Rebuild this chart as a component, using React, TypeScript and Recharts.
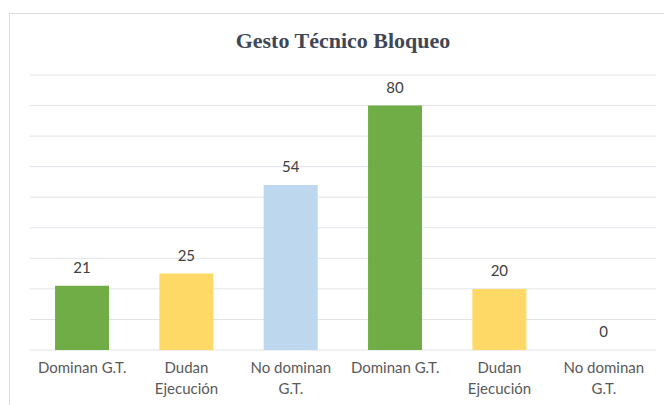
import React from 'react';
import { BarChart, Bar, XAxis, YAxis, CartesianGrid, LabelList, Cell } from 'recharts';

const categories = ['Dominan G.T.', 'Dudan Ejecución', 'No dominan G.T.', 'Dominan G.T.', 'Dudan Ejecución', 'No dominan G.T.'];
const tickLines = [['Dominan G.T.'], ['Dudan', 'Ejecución'], ['No dominan', 'G.T.'], ['Dominan G.T.'], ['Dudan', 'Ejecución'], ['No dominan', 'G.T.']];
const values = [21, 25, 54, 80, 20, 0];
const barColors = ['#70ad47', '#ffd966', '#bdd7ee', '#70ad47', '#ffd966', '#bdd7ee'];
const yTicks = [0, 10, 20, 30, 40, 50, 60, 70, 80, 90];

const data = categories.map((name, i) => ({ name, idx: i, value: values[i] }));

const FONT = 'Lato, "Open Sans", sans-serif';

const MultiLineTick = (props: any) => {
  const { x, y, payload } = props;
  const lines = tickLines[payload.index] ?? [payload.value];
  return (
    <g transform={`translate(${x},${y})`}>
      <text textAnchor="middle" fill="#595959" fontSize={15} fontFamily={FONT}>
        {lines.map((l: string, i: number) => (
          <tspan key={i} x={0} dy={i === 0 ? 15 : 21}>
            {l}
          </tspan>
        ))}
      </text>
    </g>
  );
};

const ValueLabel = (props: any) => {
  const { x, y, width, height, value } = props;
  // zero bars get a 1px min height; anchor their label to the baseline
  const top = Number(value) === 0 ? Number(y) + Number(height) : Number(y);
  return (
    <text x={Number(x) + Number(width) / 2} y={top - 13} textAnchor="middle" fill="#404040" fontSize={15} fontFamily={FONT}>
      {value}
    </text>
  );
};

export default function App() {
  return (
    <div style={{ position: 'fixed', left: 0, top: 0, width: 664, height: 405, overflow: 'hidden', background: '#fff' }}>
      <div
        style={{
          position: 'absolute',
          left: 9,
          top: 13,
          width: 700,
          height: 430,
          border: '1px solid #d9dde3',
        }}
      />
      <div
        style={{
          position: 'absolute',
          left: 30,
          width: 626,
          top: 28,
          textAlign: 'center',
          fontFamily: '"Liberation Serif", "Times New Roman", serif',
          fontWeight: 'bold',
          fontSize: 22,
          color: '#3f4756',
        }}
      >
        Gesto Técnico Bloqueo
      </div>
      <div style={{ position: 'absolute', left: 0, top: 0 }}>
        <BarChart width={664} height={405} data={data} margin={{ top: 75, right: 8, left: 30, bottom: 0 }} barCategoryGap="24%">
          <CartesianGrid vertical={false} stroke="#dfe3e8" />
          <XAxis dataKey="idx" axisLine={false} tickLine={false} tick={<MultiLineTick />} interval={0} height={55} />
          <YAxis hide domain={[0, 90]} ticks={yTicks} width={0} />
          <Bar dataKey="value" isAnimationActive={false} minPointSize={1}>
            {data.map((d, i) => (
              <Cell key={i} fill={barColors[i]} fillOpacity={d.value === 0 ? 0 : 1} />
            ))}
            <LabelList dataKey="value" content={<ValueLabel />} />
          </Bar>
        </BarChart>
      </div>
    </div>
  );
}
